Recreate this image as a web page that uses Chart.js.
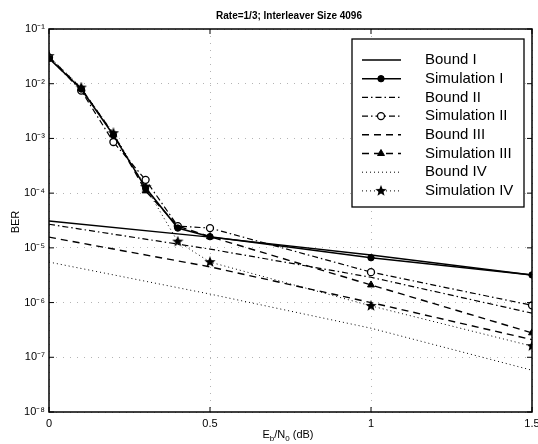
<!DOCTYPE html>
<html lang="en">
<head>
  <meta charset="UTF-8" />
  <title>BER - Rate 1/3, Interleaver Size 4096</title>
  <script src="https://cdn.jsdelivr.net/npm/chart.js"></script>
  <style>
    body { margin: 0; background: #fff; overflow: hidden; }
    canvas { display: block; }
  </style>
</head>
<body>
  <canvas id="grafico" width="538" height="444"></canvas>

  <script>
    // simulated points
    const snrSim = [0, 0.1, 0.2, 0.3, 0.4, 0.5, 1.0, 1.5];
    const simI   = [2.9e-2, 8.0e-3, 1.15e-3, 1.25e-4, 2.3e-5, 1.6e-5, 6.6e-6, 3.2e-6];
    const simII  = [3.0e-2, 7.5e-3, 8.6e-4, 1.75e-4, 2.5e-5, 2.3e-5, 3.6e-6, 8.9e-7];
    const simIII = [3.1e-2, 8.2e-3, 1.2e-3, 1.1e-4, 2.5e-5, 1.6e-5, 2.1e-6, 2.8e-7];
    const simIV  = [3.2e-2, 8.5e-3, 1.25e-3, 1.3e-4, 1.3e-5, 5.5e-6, 8.7e-7, 1.6e-7];

    // union bounds
    const snrBound = [0, 0.5, 1.0, 1.5];
    const boundI   = [3.1e-5, 1.57e-5, 7.4e-6, 3.2e-6];
    const boundII  = [2.7e-5, 9.5e-6, 2.9e-6, 6.4e-7];
    const boundIII = [1.57e-5, 4.5e-6, 1.0e-6, 2.1e-7];
    const boundIV  = [5.5e-6, 1.43e-6, 3.4e-7, 5.8e-8];

    const xTicks = [0, 0.5, 1, 1.5];
    const yTicks = [1e-8, 1e-7, 1e-6, 1e-5, 1e-4, 1e-3, 1e-2, 1e-1];

    const FONT = '"Liberation Sans", Arial, Helvetica, sans-serif';

    const pts = (xs, ys) => xs.map((x, i) => ({ x: x, y: ys[i] }));

    const supMap = { '-': '\u207B', '0': '\u2070', '1': '\u00B9', '2': '\u00B2', '3': '\u00B3',
      '4': '\u2074', '5': '\u2075', '6': '\u2076', '7': '\u2077', '8': '\u2078', '9': '\u2079' };
    const sup = s => String(s).split('').map(c => supMap[c]).join('');

    // filled five-point star marker
    function makeStar(size) {
      const c = document.createElement('canvas');
      c.width = size; c.height = size;
      const g = c.getContext('2d');
      const cx = size / 2, cy = size / 2, ro = size / 2, ri = size / 4.6;
      g.beginPath();
      for (let i = 0; i < 10; i++) {
        const r = i % 2 === 0 ? ro : ri;
        const a = -Math.PI / 2 + i * Math.PI / 5;
        g.lineTo(cx + r * Math.cos(a), cy + r * Math.sin(a));
      }
      g.closePath();
      g.fillStyle = '#000';
      g.fill();
      return c;
    }
    const starImg = makeStar(12);

    const base = { borderColor: '#000', backgroundColor: '#000', pointBorderColor: '#000', tension: 0, fill: false };

    const datasets = [
      { ...base, label: 'Bound I', data: pts(snrBound, boundI), borderWidth: 1.4, borderDash: [], pointRadius: 0 },
      { ...base, label: 'Simulation I', data: pts(snrSim, simI), borderWidth: 1.6, borderDash: [],
        pointStyle: 'circle', pointRadius: 3.2, pointBackgroundColor: '#000', pointBorderWidth: 1 },
      { ...base, label: 'Bound II', data: pts(snrBound, boundII), borderWidth: 1.2, borderDash: [6, 3, 1.5, 3], pointRadius: 0 },
      { ...base, label: 'Simulation II', data: pts(snrSim, simII), borderWidth: 1.2, borderDash: [6, 3, 1.5, 3],
        pointStyle: 'circle', pointRadius: 3.5, pointBackgroundColor: '#fff', pointBorderWidth: 1.3 },
      { ...base, label: 'Bound III', data: pts(snrBound, boundIII), borderWidth: 1.4, borderDash: [7, 5], pointRadius: 0 },
      { ...base, label: 'Simulation III', data: pts(snrSim, simIII), borderWidth: 1.4, borderDash: [7, 5],
        pointStyle: 'triangle', pointRadius: 4, pointBackgroundColor: '#000', pointBorderWidth: 1 },
      { ...base, label: 'Bound IV', data: pts(snrBound, boundIV), borderWidth: 1, borderDash: [1, 3], pointRadius: 0 },
      { ...base, label: 'Simulation IV', data: pts(snrSim, simIV), borderWidth: 1, borderDash: [1, 3],
        pointStyle: starImg, pointRadius: 5 }
    ];

    // title, axis labels with sub/superscripts, box, inward ticks and legend
    const decor = {
      id: 'decor',
      afterDraw(chart) {
        const ctx = chart.ctx;
        const a = chart.chartArea;
        const xs = chart.scales.x, ys = chart.scales.y;
        ctx.save();
        ctx.setLineDash([]);
        ctx.strokeStyle = '#000';
        ctx.fillStyle = '#000';

        ctx.lineWidth = 1.5;
        ctx.strokeRect(a.left, a.top, a.right - a.left, a.bottom - a.top);

        ctx.lineWidth = 1;
        ctx.beginPath();
        xTicks.forEach(v => {
          const px = xs.getPixelForValue(v);
          ctx.moveTo(px, a.bottom); ctx.lineTo(px, a.bottom - 5);
          ctx.moveTo(px, a.top); ctx.lineTo(px, a.top + 5);
        });
        yTicks.forEach(v => {
          const py = ys.getPixelForValue(v);
          ctx.moveTo(a.left, py); ctx.lineTo(a.left + 5, py);
          ctx.moveTo(a.right, py); ctx.lineTo(a.right - 5, py);
        });
        ctx.stroke();

        // chart title
        ctx.font = 'bold 10px ' + FONT;
        ctx.textAlign = 'center';
        ctx.textBaseline = 'middle';
        ctx.fillText('Rate=1/3; Interleaver Size 4096', 289, 16);

        // y title
        ctx.save();
        ctx.translate(16, 222);
        ctx.rotate(-Math.PI / 2);
        ctx.font = '11px ' + FONT;
        ctx.fillText('BER', 0, 0);
        ctx.restore();

        // x title: E_b/N_0 (dB)
        const parts = [['E', 0], ['b', 1], ['/N', 0], ['0', 1], [' (dB)', 0]];
        const big = '11px ' + FONT, small = '8px ' + FONT;
        let w = 0;
        parts.forEach(p => { ctx.font = p[1] ? small : big; w += ctx.measureText(p[0]).width; });
        let x = 288 - w / 2;
        ctx.textAlign = 'left';
        ctx.textBaseline = 'alphabetic';
        parts.forEach(p => {
          ctx.font = p[1] ? small : big;
          ctx.fillText(p[0], x, 438 + (p[1] ? 3 : 0));
          x += ctx.measureText(p[0]).width;
        });

        // legend
        const lx = 352, ly = 39, lw = 172, lh = 168;
        ctx.fillStyle = '#fff';
        ctx.fillRect(lx, ly, lw, lh);
        ctx.lineWidth = 1.3;
        ctx.strokeRect(lx, ly, lw, lh);
        chart.data.datasets.forEach((ds, i) => {
          const ry = 60 + i * 18.7;
          ctx.strokeStyle = '#000';
          ctx.lineWidth = ds.borderWidth;
          ctx.setLineDash(ds.borderDash);
          ctx.beginPath();
          ctx.moveTo(362, ry);
          ctx.lineTo(401, ry);
          ctx.stroke();
          ctx.setLineDash([]);
          if (ds.pointRadius > 0) {
            ctx.fillStyle = ds.pointBackgroundColor || '#000';
            ctx.lineWidth = ds.pointBorderWidth || 1;
            Chart.helpers.drawPoint(ctx, {
              pointStyle: ds.pointStyle, radius: ds.pointRadius, rotation: 0, borderWidth: ds.pointBorderWidth || 1
            }, 381, ry);
          }
          ctx.fillStyle = '#000';
          ctx.font = '15px ' + FONT;
          ctx.textBaseline = 'middle';
          ctx.fillText(ds.label, 425, ry);
        });
        ctx.restore();
      }
    };

    new Chart(document.getElementById('grafico').getContext('2d'), {
      type: 'line',
      data: { datasets: datasets },
      plugins: [decor],
      options: {
        responsive: false,
        animation: false,
        layout: { padding: { top: 29, right: 3, left: 0, bottom: 0 } },
        plugins: { legend: { display: false }, title: { display: false }, tooltip: { enabled: false } },
        scales: {
          x: {
            type: 'linear',
            min: 0,
            max: 1.5,
            afterBuildTicks: s => { s.ticks = xTicks.map(v => ({ value: v })); },
            afterFit: s => { s.height = 32; s.paddingLeft = 0; s.paddingRight = 0; },
            ticks: { color: '#000', padding: 5, maxRotation: 0, font: { family: FONT, size: 11 },
              callback: v => String(v) },
            grid: { color: '#b4b4b4', lineWidth: 1, drawTicks: false },
            border: { display: false, dash: [1, 6] }
          },
          y: {
            type: 'logarithmic',
            min: 1e-8,
            max: 1e-1,
            afterBuildTicks: s => { s.ticks = yTicks.map(v => ({ value: v })); },
            afterFit: s => { s.width = 49; s.paddingTop = 0; s.paddingBottom = 0; },
            ticks: { color: '#000', padding: 4, font: { family: FONT, size: 11 },
              callback: v => '10' + sup(Math.round(Math.log10(v))) },
            grid: { color: '#b4b4b4', lineWidth: 1, drawTicks: false },
            border: { display: false, dash: [1, 6] }
          }
        }
      }
    });
  </script>
</body>
</html>
